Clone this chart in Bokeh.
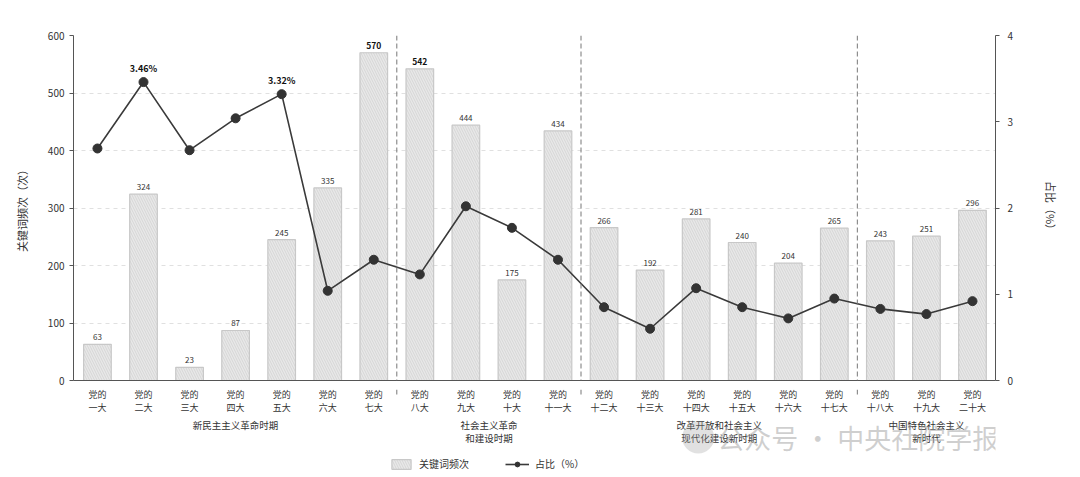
from bokeh.plotting import figure
from bokeh.layouts import column
from bokeh.models import (Range1d, LinearAxis, FixedTicker, ColumnDataSource, Span,
                          Label, Legend, LegendItem)
from bokeh.embed import file_html
from bokeh.resources import INLINE
from bokeh.core.properties import value

# ---------------- data ----------------
congress = ["党的\n一大", "党的\n二大", "党的\n三大", "党的\n四大", "党的\n五大", "党的\n六大",
            "党的\n七大", "党的\n八大", "党的\n九大", "党的\n十大", "党的\n十一大", "党的\n十二大",
            "党的\n十三大", "党的\n十四大", "党的\n十五大", "党的\n十六大", "党的\n十七大",
            "党的\n十八大", "党的\n十九大", "党的\n二十大"]
freq = [63, 324, 23, 87, 245, 335, 570, 542, 444, 175, 434, 266, 192, 281, 240, 204, 265, 243, 251, 296]
ratio = [2.69, 3.46, 2.67, 3.04, 3.32, 1.04, 1.40, 1.23, 2.02, 1.77, 1.40, 0.85, 0.60, 1.07,
         0.85, 0.72, 0.95, 0.83, 0.77, 0.92]
bold_freq = [570, 542]
labelled_ratio_idx = [1, 4]
periods = ["新民主主义革命时期", "社会主义革命\n和建设时期", "改革开放和社会主义\n现代化建设新时期",
           "中国特色社会主义\n新时代"]
period_first = [0, 7, 11, 17]
period_last = [6, 10, 16, 19]
left_ticks = [0, 100, 200, 300, 400, 500, 600]
right_ticks = [0, 1, 2, 3, 4]
watermark = "公众号 · 中央社院学报"

FONT = "Noto Sans CJK SC"
AX = "#555555"
TXT = "#333333"
W = 1080
BL, BR = 73, 85
H1 = 389
H2 = 88

idx = list(range(len(congress)))
src = ColumnDataSource(dict(
    x=idx, freq=freq, ratio=ratio,
    flab=[str(v) if v not in bold_freq else "" for v in freq],
    flab_b=[str(v) if v in bold_freq else "" for v in freq],
    rlab=[f"{r:.2f}%" if i in labelled_ratio_idx else "" for i, r in enumerate(ratio)],
))

X0, X1 = -0.52, 19.5
xr = Range1d(X0, X1)
p = figure(width=W, height=H1, output_backend="svg", toolbar_location=None,
           x_range=xr, y_range=Range1d(0, 600),
           min_border_left=BL, min_border_right=BR, min_border_top=35, min_border_bottom=H1 - 380)
p.extra_y_ranges = {"pct": Range1d(0, 4)}
p.outline_line_color = None

# grid
p.xgrid.visible = False
p.ygrid.grid_line_color = "#e0e0e0"
p.ygrid.grid_line_dash = "4 4"
p.ygrid.ticker = FixedTicker(ticks=left_ticks)

# bars
bars = p.vbar(x="x", top="freq", width=0.6, source=src, fill_color="#e8e8e8",
              line_color="#c8c8c8", line_width=1.2,
              hatch_pattern="\\", hatch_color="#d0d0d0", hatch_scale=5, hatch_weight=0.8)

# separators between periods
seps = [(a + b) / 2 for a, b in zip(period_last[:-1], period_first[1:])]
for s in seps:
    p.add_layout(Span(location=s, dimension="height", line_color="#777777",
                      line_dash="5 3", line_width=1))

# bar labels
p.text(x="x", y="freq", text="flab", source=src, text_align="center", text_baseline="bottom",
       y_offset=-4, text_font=value(FONT), text_font_size="8px", text_color=TXT)
p.text(x="x", y="freq", text="flab_b", source=src, text_align="center", text_baseline="bottom",
       y_offset=-4, text_font=value(FONT), text_font_size="8.5px", text_font_style="bold",
       text_color="#111111")

# ratio line
ln = p.line(x="x", y="ratio", source=src, y_range_name="pct", line_color="#3a3a3a", line_width=1.6)
cr = p.scatter(x="x", y="ratio", source=src, y_range_name="pct", size=9, fill_color="#333333",
               line_color="#333333")
p.text(x="x", y="ratio", text="rlab", source=src, y_range_name="pct", text_align="center",
       text_baseline="bottom", y_offset=-7, text_font=value(FONT), text_font_size="9px",
       text_font_style="bold", text_color="#111111")

# axes
p.xaxis.visible = False
p.yaxis.visible = False

xa = LinearAxis(ticker=FixedTicker(ticks=[]))
xa.axis_line_color = AX
xa.major_tick_line_color = None
xa.minor_tick_line_color = None
xa.major_label_text_font_size = "1px"
xa.major_label_standoff = 0
p.add_layout(xa, "below")

ya = LinearAxis(ticker=FixedTicker(ticks=left_ticks), axis_label="关键词频次（次）")
ya.axis_line_color = AX
ya.major_tick_line_color = AX
ya.major_tick_in = 0
ya.major_tick_out = 4
ya.minor_tick_line_color = None
ya.major_label_text_font = FONT
ya.major_label_text_font_size = "10px"
ya.major_label_text_color = TXT
ya.axis_label_text_font = FONT
ya.axis_label_text_font_size = "11px"
ya.axis_label_text_font_style = "normal"
ya.axis_label_text_color = TXT
ya.axis_label_standoff = 15
p.add_layout(ya, "left")

ra = LinearAxis(y_range_name="pct", ticker=FixedTicker(ticks=right_ticks), axis_label="占比（%）")
ra.axis_line_color = AX
ra.major_tick_line_color = AX
ra.major_tick_in = 0
ra.major_tick_out = 4
ra.minor_tick_line_color = None
ra.major_label_text_font = FONT
ra.major_label_text_font_size = "10px"
ra.major_label_text_color = TXT
ra.major_label_standoff = 8
ra.axis_label_text_font = FONT
ra.axis_label_text_font_size = "11px"
ra.axis_label_text_font_style = "normal"
ra.axis_label_text_color = TXT
ra.axis_label_standoff = 27
p.add_layout(ra, "right")

# ---------------- lower strip: category names, period names, legend, watermark ----------------
scale = (W - BL - BR) / (X1 - X0)          # pixels per category step
q = figure(width=W, height=H2, output_backend="svg", toolbar_location=None,
           x_range=xr, y_range=Range1d(0, H2), min_border=0,
           min_border_left=BL, min_border_right=BR, min_border_top=0, min_border_bottom=0)
q.axis.visible = False
q.grid.visible = False
q.outline_line_color = None

# separator stubs below the axis
q.segment(x0=seps, y0=[H2] * len(seps), x1=seps, y1=[H2 - 7] * len(seps),
          line_color="#777777", line_dash="5 3", line_width=1)

# category names (two lines)
top_line = [c.split("\n")[0] for c in congress]
bot_line = [c.split("\n")[1] for c in congress]
q.text(x=idx, y=[83] * len(idx), text=top_line, text_align="center", text_baseline="middle",
       text_font=value(FONT), text_font_size="9px", text_color=TXT)
q.text(x=idx, y=[70] * len(idx), text=bot_line, text_align="center", text_baseline="middle",
       text_font=value(FONT), text_font_size="9px", text_color=TXT)

# period names
centers = [(a + b) / 2 for a, b in zip(period_first, period_last)]
pl1 = [t.split("\n")[0] for t in periods]
pl2 = [t.split("\n")[1] if "\n" in t else "" for t in periods]
q.text(x=centers, y=[53] * len(centers), text=pl1, text_align="center",
       text_baseline="middle", text_font=value(FONT), text_font_size="9.5px", text_color=TXT)
q.text(x=centers, y=[40] * len(centers), text=pl2, text_align="center",
       text_baseline="middle", text_font=value(FONT), text_font_size="9.5px", text_color=TXT)

# watermark (kept inside the frame)
wm_right = X1 - 0.05
wm_center = wm_right - 135 / scale
q.scatter(x=[wm_center - 160 / scale], y=[40], size=32, fill_color="#9a9a9a", fill_alpha=0.3,
          line_color=None)
q.add_layout(Label(x=wm_center, y=40, text=watermark, text_align="center",
                   text_baseline="middle", text_font=FONT, text_font_size="27px",
                   text_color="#a0a0a0", text_alpha=0.5))

# legend
lb = q.vbar(x=[0], top=[0], width=0.6, fill_color="#e8e8e8", line_color="#c8c8c8",
            line_width=1.2, hatch_pattern="\\", hatch_color="#d0d0d0", hatch_scale=5,
            hatch_weight=0.8, visible=False)
ll = q.line(x=[0, 0], y=[-10, -10], line_color="#3a3a3a", line_width=1.6, visible=False)
lc = q.scatter(x=[0], y=[-10], size=6, fill_color="#333333", line_color="#333333", visible=False)

legend = Legend(items=[LegendItem(label="关键词频次", renderers=[lb]),
                       LegendItem(label="占比（%）", renderers=[ll, lc])],
                orientation="horizontal", location=(316, 6),
                label_text_font=FONT, label_text_font_size="10px", label_text_color=TXT,
                glyph_width=24, glyph_height=12, spacing=36, padding=2, margin=0,
                border_line_color=None, background_fill_alpha=0, label_standoff=6,
                label_height=12)
q.add_layout(legend, "center")

layout = column(p, q, spacing=0)
open("out.html", "w").write(file_html(layout, INLINE))
